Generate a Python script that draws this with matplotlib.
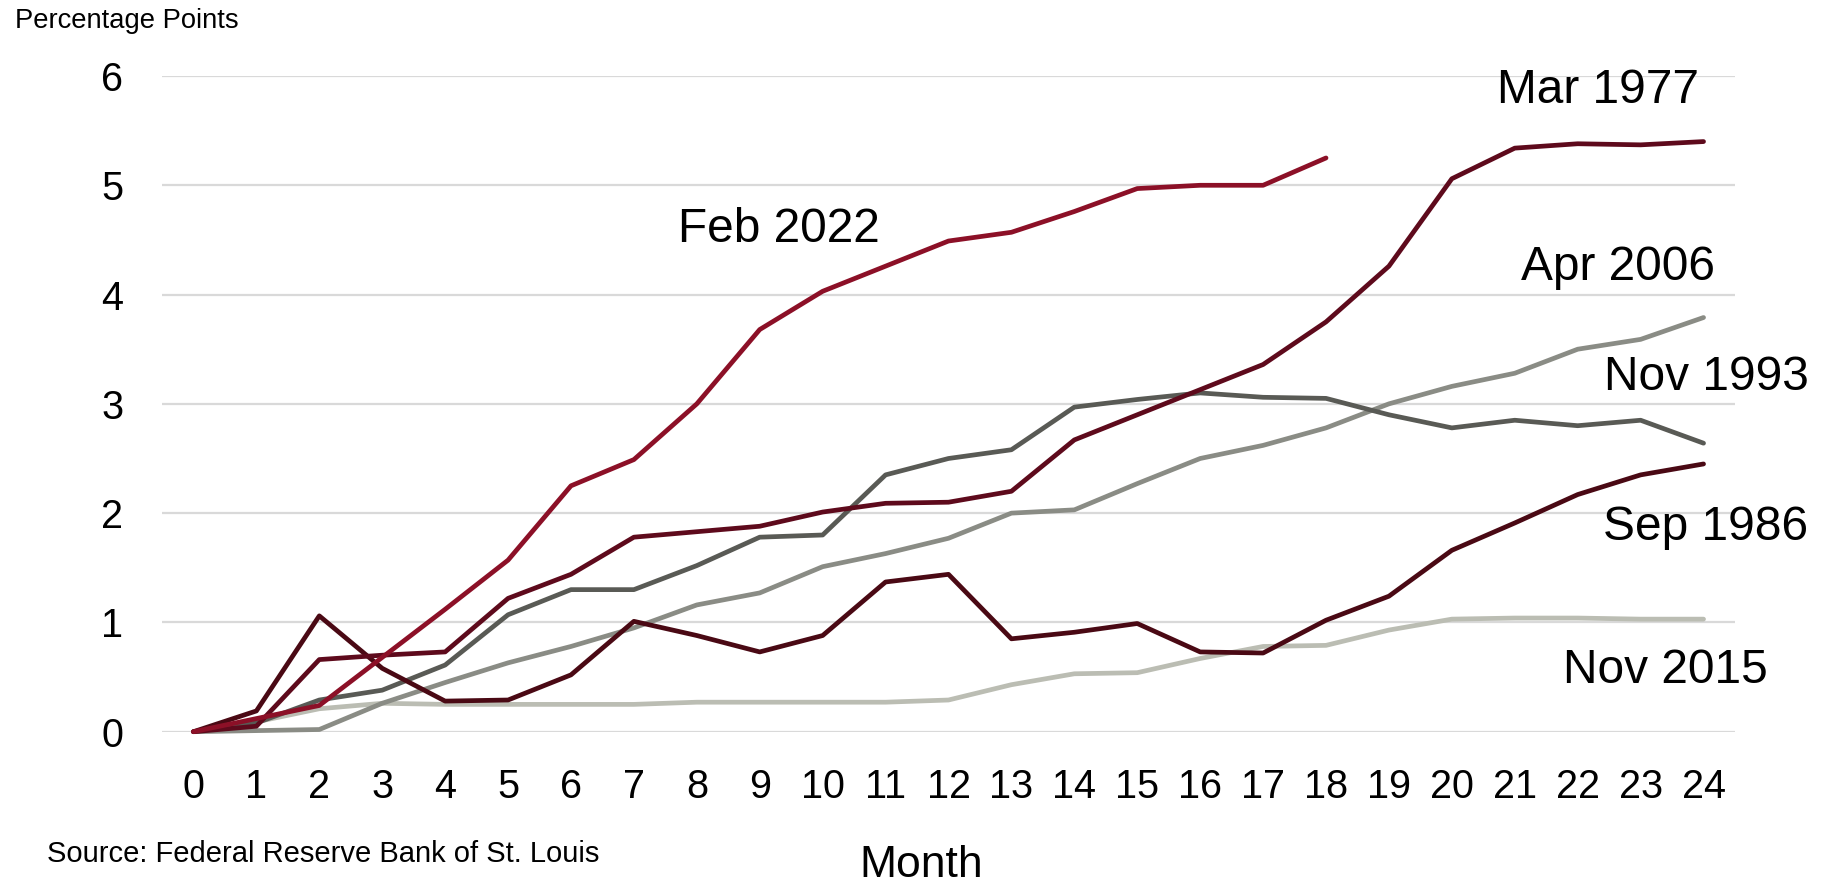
import matplotlib
matplotlib.use("Agg")
import matplotlib.pyplot as plt

plt.rcParams['font.family'] = ['Liberation Sans', 'DejaVu Sans']

months = list(range(25))

# values (percentage points)
feb_2022 = [0, 0.12, 0.24, 0.68, 1.12, 1.57, 2.25, 2.49, 3.0, 3.68, 4.03, 4.26, 4.49,
            4.57, 4.76, 4.97, 5.0, 5.0, 5.25]
mar_1977 = [0, 0.05, 0.66, 0.70, 0.73, 1.22, 1.44, 1.78, 1.83, 1.88, 2.01, 2.09, 2.10,
            2.20, 2.67, 2.90, 3.13, 3.36, 3.75, 4.26, 5.06, 5.34, 5.38, 5.37, 5.40]
apr_2006 = [0, 0.01, 0.02, 0.26, 0.45, 0.63, 0.78, 0.95, 1.16, 1.27, 1.51, 1.63, 1.77,
            2.00, 2.03, 2.27, 2.50, 2.62, 2.78, 3.00, 3.16, 3.28, 3.50, 3.59, 3.79]
nov_1993 = [0, 0.08, 0.29, 0.38, 0.61, 1.07, 1.30, 1.30, 1.52, 1.78, 1.80, 2.35, 2.50,
            2.58, 2.97, 3.04, 3.10, 3.06, 3.05, 2.90, 2.78, 2.85, 2.80, 2.85, 2.64]
sep_1986 = [0, 0.19, 1.06, 0.58, 0.28, 0.29, 0.52, 1.01, 0.88, 0.73, 0.88, 1.37, 1.44,
            0.85, 0.91, 0.99, 0.73, 0.72, 1.02, 1.24, 1.66, 1.91, 2.17, 2.35, 2.45]
nov_2015 = [0, 0.09, 0.21, 0.26, 0.25, 0.25, 0.25, 0.25, 0.27, 0.27, 0.27, 0.27, 0.29,
            0.43, 0.53, 0.54, 0.67, 0.78, 0.79, 0.93, 1.03, 1.04, 1.04, 1.03, 1.03]

fig = plt.figure(figsize=(18.22, 8.84), dpi=100)
ax = fig.add_axes([162 / 1822, 1 - 731.7 / 884, (1735 - 162) / 1822, (731.7 - 76) / 884])

lw = 3.4
ax.plot(months, nov_2015, color='#BBBDB3', lw=lw, solid_capstyle='round', clip_on=False)
ax.plot(months, apr_2006, color='#8A8C85', lw=lw, solid_capstyle='round', clip_on=False)
ax.plot(months, nov_1993, color='#595A55', lw=lw, solid_capstyle='round', clip_on=False)
ax.plot(months, sep_1986, color='#4A0914', lw=lw, solid_capstyle='round', clip_on=False)
ax.plot(months, mar_1977, color='#5E0A1C', lw=lw, solid_capstyle='round', clip_on=False)
ax.plot(months[:len(feb_2022)], feb_2022, color='#8C1027', lw=lw, solid_capstyle='round', clip_on=False)

ax.set_xlim(-0.5, 24.5)
ax.set_ylim(0, 6)
ax.set_xticks(months)
ax.set_yticks(range(7))
ax.tick_params(length=0, labelsize=28.5, colors='black')
ax.tick_params(axis='y', pad=28)
ax.tick_params(axis='x', pad=26)
ax.grid(axis='y', color='#D9D9D9', lw=1.6)
ax.set_axisbelow(True)
for s in ax.spines.values():
    s.set_visible(False)

lab = dict(fontsize=34.5, ha='center', va='baseline')
ax.text(9.31, 4.48, 'Feb 2022', **lab)
ax.text(22.33, 5.75, 'Mar 1977', **lab)
ax.text(22.64, 4.13, 'Apr 2006', **lab)
ax.text(24.05, 3.13, 'Nov 1993', **lab)
ax.text(24.04, 1.755, 'Sep 1986', **lab)
ax.text(23.39, 0.443, 'Nov 2015', **lab)

fig.text(15 / 1822, 1 - 28 / 884, 'Percentage Points', fontsize=19.7, va='baseline')
fig.text(47 / 1822, 22 / 884, 'Source: Federal Reserve Bank of St. Louis', fontsize=21, va='baseline')
fig.text(921 / 1822, 7 / 884, 'Month', fontsize=32, ha='center', va='baseline')

fig.savefig('out.png', dpi=100)
